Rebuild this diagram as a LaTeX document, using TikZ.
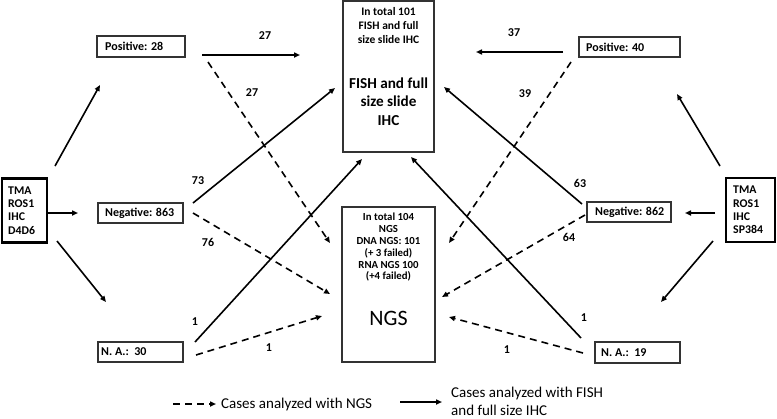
\documentclass[tikz,border=0pt]{standalone}
\usepackage{fontspec}
\setmainfont{Carlito}
\usetikzlibrary{arrows.meta}
\begin{document}
\begin{tikzpicture}[x=1pt,y=-1pt,
  box/.style={draw=black!80, line width=1.1pt, minimum height=20pt, inner sep=0pt},
  boxtext/.style={inner sep=0pt, anchor=west, font=\bfseries\fontsize{12}{13}\selectfont},
  tmabox/.style={draw=black, line width=2.6pt, inner sep=0pt},
  tmatext/.style={inner sep=0pt, align=left, font=\bfseries\fontsize{11.8}{13.3}\selectfont},
  bigbox/.style={draw=black!80, line width=1.1pt, inner sep=0pt},
  solidarrow/.style={line width=1.6pt, -{Triangle[length=6pt,width=5pt]}},
  dasharrow/.style={line width=1.6pt, dash pattern=on 7pt off 5pt, -{Triangle[length=6pt,width=5pt]}},
  num/.style={inner sep=0pt, font=\bfseries\fontsize{12}{13}\selectfont},
  legtext/.style={inner sep=0pt, anchor=west, align=left, font=\fontsize{15}{18}\selectfont}
]
\useasboundingbox (0,0) rectangle (777,418);

% central boxes
\node[bigbox, minimum width=91pt, minimum height=151pt] (fish) at (388.5,76.5) {};
\node[inner sep=0pt, align=center, font=\bfseries\fontsize{11.5}{14.3}\selectfont] (fishsmall) at (388.5,25.5) {In total 101\\FISH and full\\size slide IHC};
\node[inner sep=0pt, align=center, font=\bfseries\fontsize{15.2}{18.5}\selectfont] (fishbig) at (388.5,101.5) {FISH and full\\size slide\\IHC};

\node[bigbox, minimum width=93pt, minimum height=155pt] (ngs) at (388.5,284.5) {};
\node[inner sep=0pt, align=center, font=\bfseries\fontsize{10.8}{11.8}\selectfont] (ngssmall) at (388.5,247.5) {In total 104\\NGS\\DNA NGS: 101\\(+ 3 failed)\\RNA NGS 100\\(+4 failed)};
\node[inner sep=0pt, font=\fontsize{22}{24}\selectfont] (ngsbig) at (388.5,318.5) {NGS};

% TMA boxes
\node[tmabox, minimum width=45pt, minimum height=64pt] (tmaL) at (24.5,210.5) {};
\node[tmatext, anchor=west] (tmaLt) at (8,210.5) {TMA\\ROS1\\IHC\\D4D6};
\node[tmabox, minimum width=49pt, minimum height=64pt] (tmaR) at (750.5,210) {};
\node[tmatext, anchor=west] (tmaRt) at (733,210) {TMA\\ROS1\\IHC\\SP384};

% result boxes
\node[box, minimum width=88pt, minimum height=21pt] (pos28) at (141,46.5) {};
\node[boxtext] (pos28t) at (105,46.5) {Positive: 28};
\node[box, minimum width=85pt] (neg863) at (140.5,213) {};
\node[boxtext] (neg863t) at (105,213) {Negative: 863};
\node[box, minimum width=85pt] (na30) at (140.5,352) {};
\node[boxtext] (na30t) at (101,352) {N. A.:\ \ 30};

\node[box, minimum width=101pt] (pos40) at (629.5,47) {};
\node[boxtext] (pos40t) at (586,47) {Positive: 40};
\node[box, minimum width=84pt] (neg862) at (629,212) {};
\node[boxtext] (neg862t) at (595,212) {Negative: 862};
\node[box, minimum width=85pt, minimum height=21pt] (na19) at (637.5,352.5) {};
\node[boxtext] (na19t) at (601,352.5) {N. A.:\ \ 19};

% coordinates for connector ends
\coordinate (a1s) at (55,166);   \coordinate (a1e) at (100,85);
\coordinate (a2s) at (47,213);   \coordinate (a2e) at (78,213);
\coordinate (a3s) at (57,241);   \coordinate (a3e) at (106,302);
\coordinate (b1s) at (720,166);  \coordinate (b1e) at (677,94);
\coordinate (b2s) at (715,213);  \coordinate (b2e) at (685,213);
\coordinate (b3s) at (713,241);  \coordinate (b3e) at (661,302);

\coordinate (p28fs) at (202,55);  \coordinate (p28fe) at (300,55);
\coordinate (p28ns) at (208,62);  \coordinate (p28ne) at (330,243);
\coordinate (n863fs) at (193,203); \coordinate (n863fe) at (335,88);
\coordinate (n863ns) at (193,213); \coordinate (n863ne) at (330,294);
\coordinate (na30fs) at (195,342); \coordinate (na30fe) at (362,159);
\coordinate (na30ns) at (196,355); \coordinate (na30ne) at (322,316);

\coordinate (p40fs) at (563,52);  \coordinate (p40fe) at (476,52);
\coordinate (p40ns) at (571,62);  \coordinate (p40ne) at (449,243);
\coordinate (n862fs) at (582,204); \coordinate (n862fe) at (444,87);
\coordinate (n862ns) at (585,215); \coordinate (n862ne) at (442,297);
\coordinate (na19fs) at (581,338); \coordinate (na19fe) at (411,157);
\coordinate (na19ns) at (583,353); \coordinate (na19ne) at (449,317);

% TMA arrows
\draw[solidarrow] (a1s) -- (a1e);
\draw[solidarrow] (a2s) -- (a2e);
\draw[solidarrow] (a3s) -- (a3e);
\draw[solidarrow] (b1s) -- (b1e);
\draw[solidarrow] (b2s) -- (b2e);
\draw[solidarrow] (b3s) -- (b3e);

% left connectors
\draw[solidarrow] (p28fs) -- (p28fe);
\draw[dasharrow] (p28ns) -- (p28ne);
\draw[solidarrow] (n863fs) -- (n863fe);
\draw[dasharrow] (n863ns) -- (n863ne);
\draw[solidarrow] (na30fs) -- (na30fe);
\draw[dasharrow] (na30ns) -- (na30ne);

% right connectors
\draw[solidarrow] (p40fs) -- (p40fe);
\draw[dasharrow] (p40ns) -- (p40ne);
\draw[solidarrow] (n862fs) -- (n862fe);
\draw[dasharrow] (n862ns) -- (n862ne);
\draw[solidarrow] (na19fs) -- (na19fe);
\draw[dasharrow] (na19ns) -- (na19ne);

% numbers
\node[num] (l1) at (265,36) {27};
\node[num] (l2) at (252,93) {27};
\node[num] (l3) at (198,181) {73};
\node[num] (l4) at (208,242) {76};
\node[num] (l5) at (195,322) {1};
\node[num] (l6) at (269,348) {1};
\node[num] (r1) at (514,33) {37};
\node[num] (r2) at (525,94) {39};
\node[num] (r3) at (580,183) {63};
\node[num] (r4) at (569,237) {64};
\node[num] (r5) at (584,318) {1};
\node[num] (r6) at (507,350) {1};

% legend
\coordinate (lg1s) at (173,404); \coordinate (lg1e) at (216,404);
\draw[dasharrow] (lg1s) -- (lg1e);
\node[legtext] (lg1t) at (221,404) {Cases analyzed with NGS};
\coordinate (lg2s) at (400,402); \coordinate (lg2e) at (442,402);
\draw[solidarrow] (lg2s) -- (lg2e);
\node[legtext] (lg2t) at (451,401.5) {Cases analyzed with FISH\\and full size IHC};
\end{tikzpicture}
\end{document}
